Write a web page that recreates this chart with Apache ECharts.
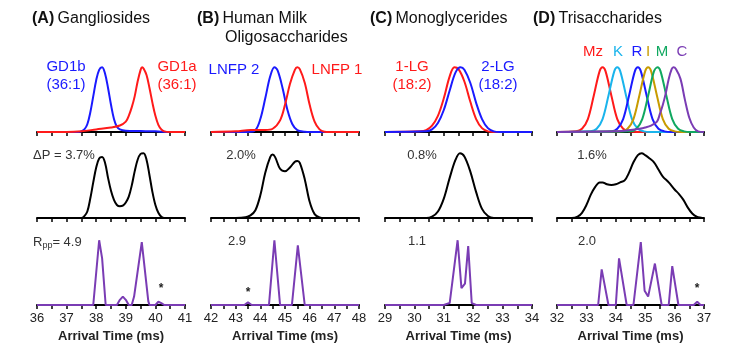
<!DOCTYPE html>
<html>
<head>
<meta charset="utf-8">
<script src="https://cdn.jsdelivr.net/npm/echarts@6/dist/echarts.min.js"></script>
<style>html,body{margin:0;padding:0;background:#fff}#chart{width:733px;height:351px}</style>
</head>
<body>
<div id="chart"></div>
<script>
// x ranges per panel (ms)
var xRanges = [[36, 41], [42, 48], [29, 34], [32, 37]];
var rppLabels = ['2.9', '1.1', '2.0'];
var dpLabels = ['2.0%', '0.8%', '1.6%'];

// (A) gangliosides
var aTopBlue = [[36,0],[37.4,0],[37.5,0.01],[37.6,0.04],[37.7,0.12],[37.8,0.3],[37.9,0.55],[38,0.8],[38.1,0.96],[38.2,1],[38.3,0.9],[38.4,0.68],[38.5,0.42],[38.6,0.2],[38.7,0.08],[38.8,0.04],[39,0.02],[39.5,0.015],[40,0.01],[40.5,0],[41,0]];
var aTopRed = [[36,0],[37,0],[37.5,0.01],[38,0.04],[38.5,0.07],[38.8,0.1],[39,0.16],[39.1,0.25],[39.2,0.38],[39.3,0.55],[39.4,0.78],[39.5,0.96],[39.55,1],[39.6,0.98],[39.7,0.88],[39.8,0.68],[39.9,0.45],[40,0.25],[40.1,0.11],[40.2,0.04],[40.3,0.01],[40.5,0],[41,0]];
var aMix = [[36,0],[37.5,0],[37.6,0.03],[37.7,0.1],[37.8,0.3],[37.9,0.55],[38,0.78],[38.1,0.92],[38.2,0.94],[38.3,0.85],[38.4,0.62],[38.5,0.42],[38.6,0.28],[38.7,0.2],[38.8,0.18],[38.9,0.19],[39,0.24],[39.1,0.33],[39.2,0.5],[39.3,0.72],[39.4,0.9],[39.5,0.99],[39.6,1],[39.7,0.9],[39.8,0.66],[39.9,0.4],[40,0.2],[40.1,0.08],[40.2,0.02],[40.3,0],[41,0]];
var aSep = [[36,0],[37.9,0],[38.1,1],[38.2,0.72],[38.32,0],[38.7,0],[38.8,0.08],[38.9,0.13],[39,0.08],[39.1,0],[39.2,0],[39.28,0.13],[39.54,0.97],[39.76,0.06],[39.8,0],[40,0],[40.1,0.05],[40.2,0.03],[40.3,0],[41,0]];

// (B) human milk oligosaccharides
var bTopBlue = [[42,0],[43.5,0],[43.8,0.03],[44,0.2],[44.2,0.52],[44.4,0.86],[44.57,1],[44.7,0.95],[44.9,0.68],[45.1,0.34],[45.3,0.12],[45.5,0.03],[45.8,0.005],[46,0],[48,0]];
var bTopRed = [[42,0],[43,0.01],[43.6,0.03],[44.2,0.03],[44.5,0.05],[44.8,0.18],[45,0.42],[45.2,0.74],[45.4,0.96],[45.5,1],[45.6,0.97],[45.8,0.76],[46,0.42],[46.2,0.16],[46.4,0.04],[46.6,0.005],[46.8,0],[48,0]];
var bMix = [[42,0],[43,0],[43.4,0.01],[43.6,0.04],[43.8,0.12],[44,0.35],[44.2,0.7],[44.4,0.94],[44.5,0.98],[44.6,0.94],[44.8,0.76],[45,0.72],[45.2,0.78],[45.4,0.87],[45.5,0.88],[45.6,0.85],[45.8,0.6],[46,0.25],[46.2,0.06],[46.4,0.01],[46.6,0],[48,0]];
var bSep = [[42,0],[43.35,0],[43.5,0.04],[43.65,0],[44.35,0],[44.57,1],[44.8,0],[45.28,0],[45.52,0.92],[45.8,0],[48,0]];

// (C) monoglycerides
var cTopRed = [[29,0],[30.2,0.01],[30.4,0.03],[30.6,0.1],[30.8,0.25],[31,0.52],[31.2,0.86],[31.36,1],[31.5,0.97],[31.7,0.78],[31.9,0.47],[32.1,0.2],[32.3,0.06],[32.5,0.01],[32.7,0],[34,0]];
var cTopBlue = [[29,0],[30.4,0.01],[30.6,0.04],[30.8,0.14],[31,0.34],[31.2,0.64],[31.4,0.92],[31.57,1],[31.7,0.96],[31.9,0.76],[32.1,0.45],[32.3,0.2],[32.5,0.06],[32.7,0.01],[32.9,0],[34,0]];
var cMix = [[29,0],[30.4,0],[30.6,0.02],[30.8,0.1],[31,0.3],[31.2,0.62],[31.4,0.9],[31.55,1],[31.7,0.95],[31.9,0.72],[32.1,0.4],[32.3,0.14],[32.5,0.03],[32.7,0],[34,0]];
var cSep = [[29,0],[31,0],[31.2,0.03],[31.47,1],[31.6,0.26],[31.72,0.33],[31.83,0.91],[31.95,0.03],[32.1,0],[34,0]];

// (D) trisaccharides
var dNames = ['Mz', 'K', 'R', 'I', 'M', 'C'];
var dColors = ['#ff1a1a', '#1ab4ec', '#1a1aff', '#c89b00', '#10a860', '#7a3cb4'];
var dMz = [[32,0],[32.65,0.01],[32.85,0.05],[33.05,0.2],[33.25,0.56],[33.45,0.94],[33.55,1],[33.65,0.94],[33.85,0.56],[34.05,0.2],[34.25,0.05],[34.45,0.01],[34.7,0],[37,0]];
var dK = [[32,0],[33.15,0.01],[33.35,0.05],[33.55,0.2],[33.75,0.56],[33.95,0.94],[34.05,1],[34.15,0.94],[34.35,0.56],[34.55,0.2],[34.75,0.05],[34.95,0.01],[35.2,0],[37,0]];
var dR = [[32,0],[33.85,0.01],[34.05,0.05],[34.25,0.2],[34.45,0.56],[34.65,0.94],[34.75,1],[34.85,0.94],[35.05,0.56],[35.25,0.2],[35.45,0.05],[35.65,0.01],[35.9,0],[37,0]];
var dI = [[32,0],[34.2,0.01],[34.4,0.05],[34.6,0.2],[34.8,0.56],[35,0.94],[35.1,1],[35.2,0.94],[35.4,0.56],[35.6,0.2],[35.8,0.05],[36,0.01],[36.25,0],[37,0]];
var dM = [[32,0],[34.5,0.01],[34.7,0.05],[34.9,0.2],[35.1,0.56],[35.3,0.94],[35.42,1],[35.52,0.94],[35.72,0.56],[35.92,0.2],[36.12,0.05],[36.32,0.01],[36.55,0],[37,0]];
var dC = [[32,0],[34,0.01],[34.5,0.03],[34.8,0.05],[35,0.07],[35.2,0.1],[35.4,0.16],[35.5,0.28],[35.6,0.42],[35.7,0.6],[35.8,0.82],[35.9,0.97],[35.96,1],[36.05,0.97],[36.2,0.82],[36.35,0.5],[36.5,0.22],[36.65,0.07],[36.8,0.01],[37,0]];
var dMix = [[32,0],[32.5,0],[32.7,0.02],[32.85,0.08],[33,0.2],[33.15,0.36],[33.3,0.48],[33.45,0.55],[33.55,0.55],[33.7,0.52],[33.85,0.51],[34,0.52],[34.15,0.55],[34.3,0.58],[34.45,0.7],[34.6,0.86],[34.75,0.97],[34.88,1],[35,0.97],[35.15,0.92],[35.3,0.86],[35.45,0.75],[35.6,0.64],[35.8,0.55],[36,0.44],[36.15,0.37],[36.3,0.28],[36.45,0.16],[36.6,0.07],[36.75,0.02],[36.9,0.005],[37,0]];
var dSep = [[32,0],[33.4,0],[33.52,0.55],[33.75,0],[34,0],[34.11,0.72],[34.37,0],[34.6,0],[34.85,0.97],[34.98,0.22],[35.1,0.13],[35.33,0.64],[35.56,0],[35.8,0],[35.92,0.6],[36.13,0],[36.65,0],[36.77,0.05],[36.88,0],[37,0]];

var RED = '#ff1a1a', BLUE = '#1a1aff', PURPLE = '#7a3cb4';
var FONT = 'Liberation Sans, Arial, sans-serif';

var colLeft = [37, 211, 385, 557];
var colWidth = [148, 148, 147, 147];
var rowTop = [64, 150, 237];

var grids = [], xAxes = [], yAxes = [], series = [];
for (var r = 0; r < 3; r++) {
  for (var c = 0; c < 4; c++) {
    var i = r * 4 + c;
    grids.push({left: colLeft[c], width: colWidth[c], top: rowTop[r], height: 68});
    xAxes.push({
      gridIndex: i, type: 'value', min: xRanges[c][0], max: xRanges[c][1], interval: 0.5,
      axisLine: {lineStyle: {color: '#000', width: 2}},
      axisTick: {length: 4, lineStyle: {color: '#000', width: 1.5}},
      splitLine: {show: false},
      axisLabel: {
        show: r === 2, fontSize: 13, color: '#222', margin: 7, fontFamily: FONT,
        formatter: function (v) { return Math.abs(v - Math.round(v)) < 1e-6 ? String(Math.round(v)) : ''; }
      },
      name: r === 2 ? 'Arrival Time (ms)' : '',
      nameLocation: 'middle', nameGap: 25,
      nameTextStyle: {fontSize: 13, fontWeight: 'bold', color: '#222', fontFamily: FONT}
    });
    yAxes.push({gridIndex: i, type: 'value', min: 0, max: 1.05, show: false});
  }
}

function line(idx, data, color, smooth) {
  series.push({
    type: 'line', xAxisIndex: idx, yAxisIndex: idx, data: data,
    smooth: smooth ? 0.35 : false, showSymbol: false, silent: true,
    lineStyle: {color: color, width: 2}
  });
}

line(0, aTopBlue, BLUE, true); line(0, aTopRed, RED, true);
line(1, bTopBlue, BLUE, true); line(1, bTopRed, RED, true);
line(2, cTopRed, RED, true); line(2, cTopBlue, BLUE, true);
[dMz, dK, dR, dI, dM, dC].forEach(function (d, k) { line(3, d, dColors[k], true); });
line(4, aMix, '#000', true); line(5, bMix, '#000', true); line(6, cMix, '#000', true); line(7, dMix, '#000', true);
line(8, aSep, PURPLE, false); line(9, bSep, PURPLE, false); line(10, cSep, PURPLE, false); line(11, dSep, PURPLE, false);

function txt(x, y, text, color, size, align, extra) {
  var st = {text: text, fill: color, font: (size || 14) + 'px ' + FONT, textAlign: align || 'center', textVerticalAlign: 'middle'};
  if (extra) for (var k in extra) st[k] = extra[k];
  return {type: 'text', x: x, y: y, style: st, silent: true};
}

var titleRich = {b: {fontWeight: 'bold', fontSize: 16, fontFamily: FONT, fill: '#111'}, n: {fontSize: 16, fontFamily: FONT, fill: '#111'}};
function title(x, y, tag, name) {
  return {type: 'text', x: x, y: y, silent: true,
    style: {text: '{b|' + tag + '} {n|' + name + '}', rich: titleRich, textVerticalAlign: 'middle', textAlign: 'left'}};
}

var graphics = [
  title(32, 19, '(A)', 'Gangliosides'),
  title(197, 19, '(B)', 'Human Milk'),
  txt(225, 38, 'Oligosaccharides', '#111', 16, 'left'),
  title(370, 19, '(C)', 'Monoglycerides'),
  title(533, 19, '(D)', 'Trisaccharides'),
  txt(66, 67, 'GD1b', BLUE, 15), txt(66, 85, '(36:1)', BLUE, 15),
  txt(177, 67, 'GD1a', RED, 15), txt(177, 85, '(36:1)', RED, 15),
  txt(234, 70, 'LNFP 2', BLUE, 15), txt(337, 70, 'LNFP 1', RED, 15),
  txt(412, 67, '1-LG', RED, 15), txt(412, 85, '(18:2)', RED, 15),
  txt(498, 67, '2-LG', BLUE, 15), txt(498, 85, '(18:2)', BLUE, 15),
  txt(33, 155, '\u0394P = 3.7%', '#333', 13, 'left'),
  txt(241, 155, dpLabels[0], '#333', 13), txt(422, 155, dpLabels[1], '#333', 13), txt(592, 155, dpLabels[2], '#333', 13),
  {type: 'text', x: 33, y: 242, silent: true, style: {
    text: '{r|R}{s|pp}{r|= 4.9}', textVerticalAlign: 'middle',
    rich: {r: {fontSize: 13, fontFamily: FONT, fill: '#333'}, s: {fontSize: 9, fontFamily: FONT, fill: '#333', padding: [8, 0, 0, 0]}}}},
  txt(237, 241, rppLabels[0], '#333', 13), txt(417, 241, rppLabels[1], '#333', 13), txt(587, 241, rppLabels[2], '#333', 13),
  txt(161, 289, '*', '#222', 14, 'center', {fontWeight: 'bold'}),
  txt(248, 293, '*', '#222', 14, 'center', {fontWeight: 'bold'}),
  txt(697, 289, '*', '#222', 14, 'center', {fontWeight: 'bold'})
];
var dLabelX = [593, 618, 637, 648, 662, 682];
dNames.forEach(function (n, k) { graphics.push(txt(dLabelX[k], 52, n, dColors[k], 15)); });

var chart = echarts.init(document.getElementById('chart'));
chart.setOption({
  animation: false,
  backgroundColor: '#fff',
  grid: grids, xAxis: xAxes, yAxis: yAxes, series: series,
  graphic: graphics
});
</script>
</body>
</html>
